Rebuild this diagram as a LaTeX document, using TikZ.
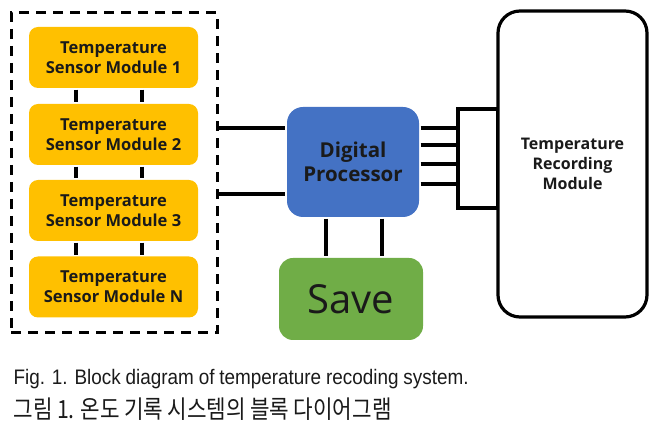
\documentclass[tikz,border=0pt]{standalone}
\usepackage{fontspec}
\setmainfont{Open Sans}
\newfontfamily\capfont[FakeStretch=0.9]{Liberation Sans}
\newfontfamily\kofont[FakeStretch=0.85]{Noto Sans CJK KR}
\definecolor{gold}{HTML}{FFC000}
\definecolor{pblue}{HTML}{4472C4}
\definecolor{pgreen}{HTML}{70AD47}
\definecolor{txt}{HTML}{1A1A1A}
\begin{document}
\begin{tikzpicture}[x=1pt,y=-1pt,line width=3.2pt,
  sensor/.style={fill=gold,rounded corners=9pt,minimum width=169pt,minimum height=61pt,
    align=center,inner sep=0pt,text=txt,font=\bfseries\fontsize{16.5}{20}\selectfont},
  grpbox/.style={draw,line width=3pt,dash pattern=on 10pt off 7pt,minimum width=206pt,minimum height=320pt,inner sep=0pt},
  procbox/.style={fill=pblue,rounded corners=16pt,minimum width=132pt,minimum height=110pt,
    align=center,inner sep=0pt,text=txt,font=\bfseries\fontsize{20.5}{24}\selectfont},
  savebox/.style={fill=pgreen,rounded corners=14pt,minimum width=144pt,minimum height=82pt,
    inner sep=0pt,text=txt,font=\fontsize{40}{44}\selectfont},
  connbox/.style={draw,fill=white,minimum width=40pt,minimum height=99pt,inner sep=0pt},
  recbox/.style={draw,fill=white,rounded corners=22pt,minimum width=149pt,minimum height=306pt,
    align=center,inner sep=0pt,text=txt,font=\bfseries\fontsize{16}{20}\selectfont},
  wire/.style={draw,line width=3.2pt}]
\useasboundingbox (0,0) rectangle (667,435);
% sensor group
\node[grpbox] (grp) at (114,173) {};
\node[sensor] (s1) at (113.5,57.5) {Temperature\\Sensor Module 1};
\node[sensor] (s2) at (113.5,134.5) {Temperature\\Sensor Module 2};
\node[sensor] (s3) at (113.5,210.5) {Temperature\\Sensor Module 3};
\node[sensor] (sN) at (113.5,287) {Temperature\\Sensor Module N};
\foreach \a/\b in {s1/s2,s2/s3,s3/sN}{
  \draw[wire] (\a.south -| 76,0) -- (\b.north -| 76,0);
  \draw[wire] (\a.south -| 142,0) -- (\b.north -| 142,0);
}
% processor and save
\node[procbox] (dp) at (353,162) {Digital\\Processor};
\node[savebox] (save) at (351,299) {Save};
\draw[wire] (grp.east |- 0,128) -- (dp.west |- 0,128);
\draw[wire] (grp.east |- 0,194) -- (dp.west |- 0,194);
\draw[wire] (dp.south -| 326,0) -- (save.north -| 326,0);
\draw[wire] (dp.south -| 382,0) -- (save.north -| 382,0);
% recording module
\node[connbox] (conn) at (478,158.5) {};
\node[recbox] (rec) at (572.5,164) {Temperature\\Recording\\Module};
\foreach \y in {128,145,164,184}{
  \draw[wire] (dp.east |- 0,\y) -- (conn.west |- 0,\y);
}
% caption
\node[anchor=base west,inner sep=0pt,text=txt,font=\capfont\fontsize{21}{21}\selectfont] (cap1) at (12,385)
  {\makebox[455pt][s]{Fig. 1. Block diagram of temperature recoding system.}};
\node[anchor=base west,inner sep=0pt,text=txt,font=\kofont\fontsize{25}{25}\selectfont] (cap2) at (12,419)
  {\makebox[378pt][s]{그림 1. 온도 기록 시스템의 블록 다이어그램}};
\end{tikzpicture}
\end{document}
